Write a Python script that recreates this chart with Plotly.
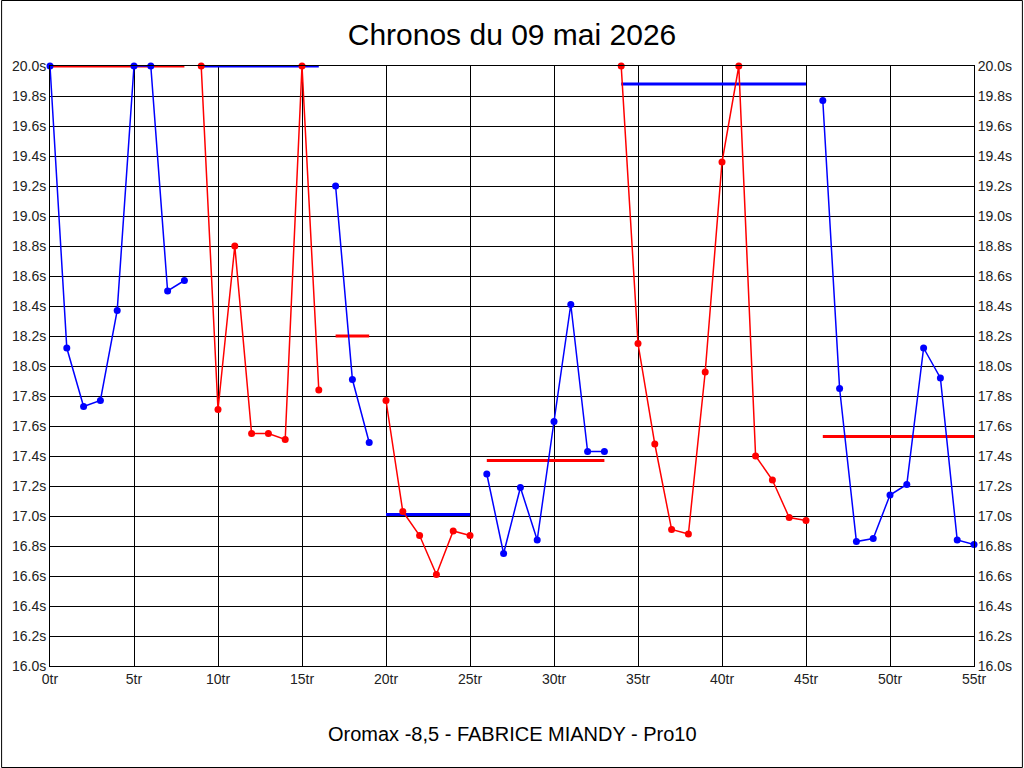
import plotly.graph_objects as go

# Chronos par tour (secondes), 56 tours de 0 à 55
chronos = [
    20.0, 18.12, 17.73, 17.77, 18.37, 20.0, 20.0, 18.50, 18.57,
    20.0, 17.71, 18.80, 17.55, 17.55, 17.51, 20.0, 17.84,
    19.20, 17.91, 17.49,
    17.77, 17.03, 16.87, 16.61, 16.90, 16.87,
    17.28, 16.75, 17.19, 16.84, 17.63, 18.41, 17.43, 17.43,
    20.0, 18.15, 17.48, 16.91, 16.88, 17.96, 19.36, 20.0, 17.40, 17.24, 16.99, 16.97,
    19.77, 17.85, 16.83, 16.85, 17.14, 17.21, 18.12, 17.92, 16.84, 16.81,
]

# relais : (premier tour, dernier tour)
relais = [(0, 8), (9, 16), (17, 19), (20, 25), (26, 33), (34, 45), (46, 55)]
moyennes = [20.0, 20.0, 18.20, 17.01, 17.37, 19.88, 17.53]

couleurs = ["#0000ff", "#ff0000"]

y_min, y_max = 16.0, 20.0
x_max = 55
y_ticks = [round(y_min + 0.2 * i, 1) for i in range(21)]
y_labels = [f"{v:.1f}s" for v in y_ticks]
x_ticks = list(range(0, x_max + 1, 5))
x_labels = [f"{v}tr" for v in x_ticks]

W, H = 1024, 768
ml, mr, mt, mb = 49, 49, 66, 102
pw, ph = W - ml - mr, H - mt - mb

fig = go.Figure()

for i, ((debut, fin), moy) in enumerate(zip(relais, moyennes)):
    c_line = couleurs[i % 2]
    c_moy = couleurs[(i + 1) % 2]
    tours = list(range(debut, fin + 1))
    fig.add_trace(
        go.Scatter(
            x=[debut, fin],
            y=[moy, moy],
            mode="lines",
            line={"color": c_moy, "width": 3},
            cliponaxis=False,
            showlegend=False,
            hoverinfo="skip",
        )
    )
    fig.add_trace(
        go.Scatter(
            x=tours,
            y=chronos[debut:fin + 1],
            mode="lines+markers",
            line={"color": c_line, "width": 1.5},
            marker={"color": c_line, "size": 7},
            cliponaxis=False,
            showlegend=False,
        )
    )

font = "Liberation Sans, Arial, sans-serif"
axis_common = dict(
    showgrid=True,
    gridcolor="black",
    gridwidth=1,
    zeroline=False,
    showline=True,
    linecolor="black",
    linewidth=1,
    ticks="",
    tickfont={"family": font, "size": 14, "color": "#222"},
)

fig.update_layout(
    width=W,
    height=H,
    margin={"l": ml, "r": mr, "t": mt, "b": mb},
    paper_bgcolor="white",
    plot_bgcolor="white",
    title={
        "text": "Chronos du 09 mai 2026",
        "x": 0.5,
        "xanchor": "center",
        "y": 1 - 34 / H,
        "yanchor": "middle",
        "yref": "container",
        "font": {"family": font, "size": 30, "color": "black"},
    },
    xaxis=dict(
        axis_common,
        range=[0, x_max],
        tickvals=x_ticks,
        ticktext=x_labels,
        mirror=True,
    ),
    yaxis=dict(
        axis_common,
        range=[y_min, y_max],
        tickvals=y_ticks,
        ticktext=y_labels,
        mirror=True,
    ),
    yaxis2=dict(
        axis_common,
        range=[y_min, y_max],
        tickvals=y_ticks,
        ticktext=y_labels,
        overlaying="y",
        side="right",
        showgrid=False,
    ),
    annotations=[
        dict(
            text="Oromax -8,5 - FABRICE MIANDY - Pro10",
            x=0.5,
            y=-(734 - (H - mb)) / ph,
            xref="paper",
            yref="paper",
            xanchor="center",
            yanchor="middle",
            showarrow=False,
            font={"family": font, "size": 20, "color": "black"},
        )
    ],
    shapes=[
        dict(
            type="rect",
            xref="paper",
            yref="paper",
            x0=-ml / pw + 0.5 / pw,
            x1=1 + mr / pw - 0.5 / pw,
            y0=-mb / ph + 0.5 / ph,
            y1=1 + mt / ph - 0.5 / ph,
            line={"color": "black", "width": 1},
        )
    ],
)

# trace invisible pour afficher l'axe de droite
fig.add_trace(
    go.Scatter(x=[0], y=[y_min], yaxis="y2", mode="markers",
               marker={"opacity": 0}, showlegend=False, hoverinfo="skip")
)

fig.write_html(
    "out.html",
    config={"displayModeBar": False},
    post_script="document.body.style.margin='0';document.body.style.overflow='hidden';",
)
